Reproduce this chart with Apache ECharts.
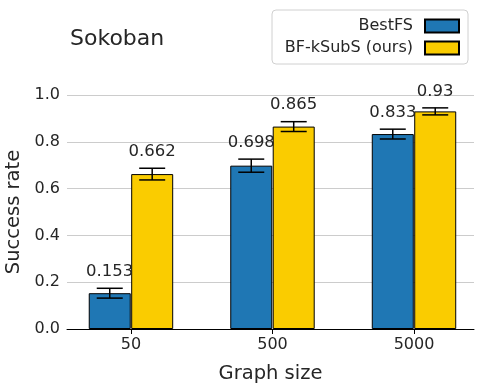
<!DOCTYPE html>
<html>
<head>
<meta charset="utf-8">
<script src="https://cdn.jsdelivr.net/npm/echarts@6/dist/echarts.min.js"></script>
<style>
  html, body { margin: 0; padding: 0; background: #fff; }
  #chart { width: 483px; height: 391px; }
</style>
</head>
<body>
<div id="chart"></div>
<script>
// graph sizes on the x axis
const categories = ['50', '500', '5000'];
const bestFS = [0.153, 0.698, 0.833];
const bestFSErr = [0.021, 0.028, 0.021];
const kSubS = [0.662, 0.865, 0.93];
const kSubSErr = [0.025, 0.021, 0.015];
const yTicks = [0, 0.2, 0.4, 0.6, 0.8, 1.0];

const font = 'DejaVu Sans';
const textColor = '#262626';
const chart = echarts.init(document.getElementById('chart'));

// each group sits at index i, bars shifted half a bar width to each side
const shift = 0.15;
const barData = (vals, dir) => vals.map((v, i) => [i + dir * shift, v]);
const errData = (vals, errs, dir) => vals.map((v, i) => [i + dir * shift, v, errs[i]]);

// error bar with caps, plus the value written above it
const renderErr = (params, api) => {
  const x = api.value(0), v = api.value(1), e = api.value(2);
  const top = api.coord([x, v + e]);
  const bot = api.coord([x, v - e]);
  const cap = 13;
  const style = { stroke: '#000', lineWidth: 1.5 };
  return {
    type: 'group',
    children: [
      { type: 'line', shape: { x1: top[0], y1: top[1], x2: bot[0], y2: bot[1] }, style },
      { type: 'line', shape: { x1: top[0] - cap, y1: top[1], x2: top[0] + cap, y2: top[1] }, style },
      { type: 'line', shape: { x1: bot[0] - cap, y1: bot[1], x2: bot[0] + cap, y2: bot[1] }, style },
      {
        type: 'text',
        style: {
          x: top[0], y: top[1] - 8, text: String(v),
          fill: textColor, font: '16.5px "' + font + '"',
          textAlign: 'center', textVerticalAlign: 'bottom'
        }
      }
    ]
  };
};

chart.setOption({
  animation: false,
  textStyle: { fontFamily: font, color: textColor },
  title: {
    text: 'Sokoban',
    left: 65, top: 23,
    textStyle: { fontFamily: font, fontSize: 22, fontWeight: 'normal', color: textColor }
  },
  legend: {
    data: ['BestFS', 'BF-kSubS (ours)'],
    icon: 'rect',
    orient: 'vertical',
    align: 'right',
    right: 15, top: 10,
    padding: [8, 8, 8, 7],
    itemGap: 6,
    itemWidth: 34, itemHeight: 13,
    borderColor: '#d0d0d0', borderWidth: 1, borderRadius: 4,
    backgroundColor: '#fff',
    textStyle: {
      fontFamily: font, fontSize: 16, color: textColor,
      width: 134, align: 'right', lineHeight: 16, padding: [0, 7, 0, 0]
    }
  },
  grid: { left: 67, right: 9, top: 95, bottom: 62, outerBoundsMode: 'none' },
  xAxis: {
    type: 'value',
    min: -0.452, max: 2.424,
    name: 'Graph size',
    nameLocation: 'middle',
    nameGap: 35,
    nameTextStyle: { fontFamily: font, fontSize: 19.5, color: textColor },
    axisLine: { show: true, lineStyle: { color: '#000', width: 1 } },
    axisTick: { show: true, customValues: [0, 1, 2], length: 5, lineStyle: { color: '#000' } },
    axisLabel: {
      customValues: [0, 1, 2],
      formatter: v => categories[Math.round(v)],
      fontFamily: font, fontSize: 16, color: textColor, margin: 8
    },
    splitLine: { show: false }
  },
  yAxis: {
    type: 'value',
    min: 0, max: 1.0, interval: 0.2,
    name: 'Success rate',
    nameLocation: 'middle',
    nameGap: 42,
    nameTextStyle: { fontFamily: font, fontSize: 19.5, color: textColor },
    axisLine: { show: false },
    axisTick: { show: false },
    axisLabel: {
      customValues: yTicks,
      formatter: v => v.toFixed(1),
      fontFamily: font, fontSize: 16, color: textColor, margin: 7
    },
    splitLine: { show: true, lineStyle: { color: '#cccccc', width: 1 } }
  },
  series: [
    {
      name: 'BestFS', type: 'bar',
      data: barData(bestFS, -1),
      barWidth: 42, barGap: '-100%',
      itemStyle: { color: '#1f77b4', borderColor: '#000', borderWidth: 1 }
    },
    {
      name: 'BF-kSubS (ours)', type: 'bar',
      data: barData(kSubS, 1),
      barWidth: 42, barGap: '-100%',
      itemStyle: { color: '#facc00', borderColor: '#000', borderWidth: 1 }
    },
    {
      type: 'custom', renderItem: renderErr, z: 5, clip: false,
      data: errData(bestFS, bestFSErr, -1)
    },
    {
      type: 'custom', renderItem: renderErr, z: 5, clip: false,
      data: errData(kSubS, kSubSErr, 1)
    }
  ]
});
</script>
</body>
</html>
